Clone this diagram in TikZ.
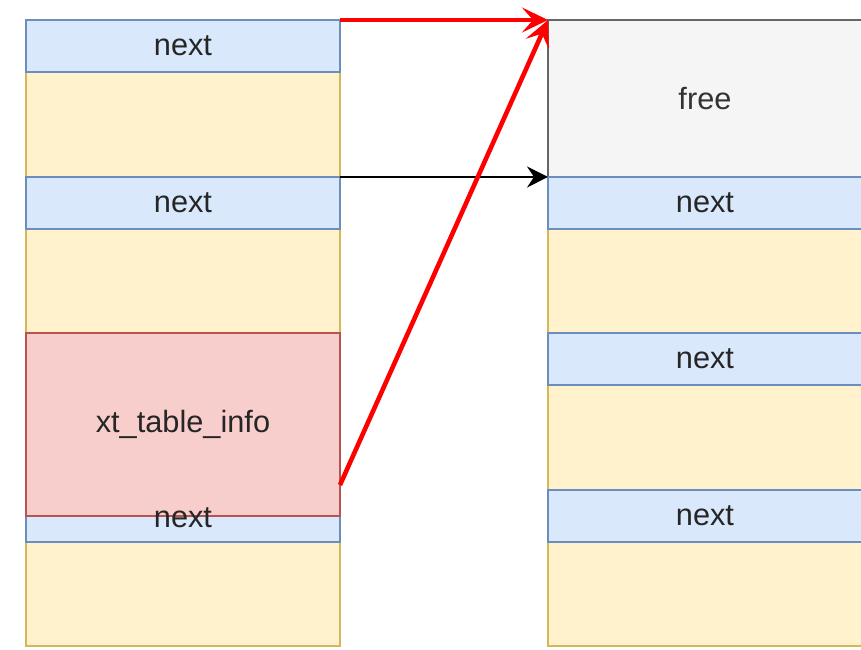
\documentclass[tikz,border=0pt]{standalone}
\usepackage{fontspec}
\setmainfont{Liberation Sans}
\usepackage{xcolor}
\usetikzlibrary{arrows.meta}

\definecolor{nextfill}{HTML}{DAE8FC}
\definecolor{nextline}{HTML}{6C8EBF}
\definecolor{datafill}{HTML}{FFF2CC}
\definecolor{dataline}{HTML}{D6B656}
\definecolor{infofill}{HTML}{F8CECC}
\definecolor{infoline}{HTML}{B85450}
\definecolor{freefill}{HTML}{F5F5F5}
\definecolor{freeline}{HTML}{666666}

\begin{document}
\begin{tikzpicture}[x=0.02cm,y=-0.02cm,line width=1.1pt,
    font=\fontsize{17.5}{21}\selectfont,
    blk/.style={anchor=north west,inner sep=0pt,outer sep=0pt,minimum width=6.28cm},
    nextbox/.style={blk,fill=nextfill,draw=nextline,text=black!85},
    databox/.style={blk,fill=datafill,draw=dataline},
    freebox/.style={blk,fill=freefill,draw=freeline,text=black!80},
    infobox/.style={blk,fill=infofill,draw=infoline,text=black!85},
    redarrow/.style={red,line width=2.6pt,-{Stealth[length=0.52cm,width=0.5cm,inset=0.22cm]}},
    blkarrow/.style={black,line width=1.1pt,-{Stealth[length=0.42cm,width=0.42cm,inset=0.14cm]}}]
  \useasboundingbox (0,0) rectangle (861,649);
  % Left column
  \foreach \name/\y/\h in {la/72/105, lb/229/261, lc/542/104}
    \node[databox,minimum height=\h*0.02cm] (\name) at (26,\y) {};
  \foreach \name/\y/\txt in {ln1/20/next, ln2/177/next, ln3/490/}
    \node[nextbox,minimum height=1.04cm] (\name) at (26,\y) {\txt};
  \node[infobox,minimum height=3.66cm] (info) at (26,333) {xt\_table\_info};
  \node[text=black!85] (ln3txt) at ([yshift=-1pt]ln3.center) {next};
  % Right column
  \node[freebox,minimum height=3.14cm] (free) at (548,20) {free};
  \foreach \name/\y/\h in {ra/229/104, rb/385/105, rc/542/104}
    \node[databox,minimum height=\h*0.02cm] (\name) at (548,\y) {};
  \foreach \name/\y in {rn1/177, rn2/333, rn3/490}
    \node[nextbox,minimum height=1.04cm] (\name) at (548,\y) {next};
  % Links
  \coordinate (src) at (340,485);
  \draw[blkarrow] (ln2.north east) -- (free.south west);
  \draw[redarrow] (ln1.north east) -- (free.north west);
  \draw[redarrow] (src) -- (free.north west);
\end{tikzpicture}
\end{document}
